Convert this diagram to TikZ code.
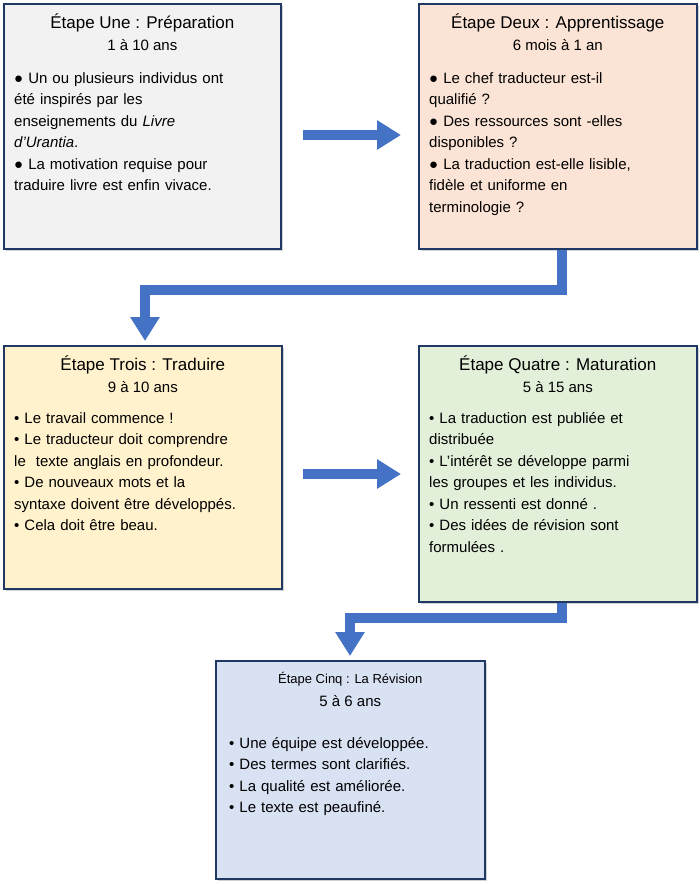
\documentclass[tikz,border=0pt]{standalone}
\usepackage{fontspec}
\setmainfont{Liberation Sans}
\usetikzlibrary{positioning, arrows.meta, calc, shadows}

\definecolor{navy}{HTML}{1F3864}
\definecolor{flow}{HTML}{4472C4}
\definecolor{greybox}{HTML}{F2F2F2}
\definecolor{peachbox}{HTML}{FBE4D5}
\definecolor{yellowbox}{HTML}{FFF2CC}
\definecolor{greenbox}{HTML}{E2EFD9}
\definecolor{bluebox}{HTML}{D9E2F3}

\begin{document}
\begin{tikzpicture}
        [
            x=1pt, y=-1pt,
            stage/.style={draw=navy, line width=1.6pt, anchor=north west,
                          drop shadow={shadow xshift=2pt, shadow yshift=-2pt, fill=black!35},
                          inner sep=0pt},
            title/.style={font=\fontsize{17}{20}\selectfont, inner sep=0pt},
            span/.style={font=\fontsize{15}{18}\selectfont, inner sep=0pt},
            body/.style={font=\fontsize{15}{21.5}\selectfont, align=left,
                         inner sep=0pt, anchor=north west},
            flowline/.style={draw=flow, line width=10pt,
                             -{Triangle[width=28pt,length=24pt]}}
        ]
        \useasboundingbox (0,0) rectangle (700,884);
        % boxes
        \node (s1) [stage, fill=greybox, minimum width=277pt, minimum height=245pt] at (3,3) {};
        \node (s2) [stage, fill=peachbox, minimum width=278pt, minimum height=245pt] at (418,3) {};
        \node (s3) [stage, fill=yellowbox, minimum width=278pt, minimum height=243pt] at (3,345) {};
        \node (s4) [stage, fill=greenbox, minimum width=278pt, minimum height=256pt] at (418,345) {};
        \node (s5) [stage, fill=bluebox, minimum width=269pt, minimum height=218pt] at (215,660) {};
        % titles
        \node (t1) [title, below=11pt of s1.north] {Étape Une : Préparation};
        \node (d1) [span, below=7pt of t1] {1 à 10 ans};
        \node (t2) [title, below=11pt of s2.north] {Étape Deux : Apprentissage};
        \node (d2) [span, below=7pt of t2] {6 mois à 1 an};
        \node (t3) [title, below=11pt of s3.north] {Étape Trois : Traduire};
        \node (d3) [span, below=7pt of t3] {9 à 10 ans};
        \node (t4) [title, below=11pt of s4.north] {Étape Quatre : Maturation};
        \node (d4) [span, below=7pt of t4] {5 à 15 ans};
        \node (t5) [title, font=\fontsize{13}{16}\selectfont, below=12pt of s5.north] {Étape Cinq : La Révision};
        \node (d5) [span, below=9pt of t5] {5 à 6 ans};
        % texts
        \node (b1) [body, text width=255pt] at (14,72)
            {● Un ou plusieurs individus ont\\été inspirés par les\\enseignements du \textit{Livre}\\\textit{d’Urantia}.\\● La motivation requise pour\\traduire livre est enfin vivace.};
        \node (b2) [body, text width=265pt] at (429,72)
            {● Le chef traducteur est-il\\qualifié ?\\● Des ressources sont -elles\\disponibles ?\\● La traduction est-elle lisible,\\fidèle et uniforme en\\terminologie ?};
        \node (b3) [body, text width=265pt] at (14,412)
            {• Le travail commence !\\• Le traducteur doit comprendre\\le~ texte anglais en profondeur.\\• De nouveaux mots et la\\syntaxe doivent être développés.\\• Cela doit être beau.};
        \node (b4) [body, text width=265pt] at (429,412)
            {• La traduction est publiée et\\distribuée\\• L’intérêt se développe parmi\\les groupes et les individus.\\• Un ressenti est donné .\\• Des idées de révision sont\\formulées .};
        \node (b5) [body, text width=240pt] at (229,737)
            {• Une équipe est développée.\\• Des termes sont clarifiés.\\• La qualité est améliorée.\\• Le texte est peaufiné.};
        % connectors
        \coordinate (a1) at (303,135);
        \coordinate (a2) at (401,135);
        \draw [flowline] (a1) -- (a2);
        \coordinate (a3) at (401,474);
        \coordinate (a4) at (303,474);
        \draw [flowline] (a4) -- (a3);
        \draw [flowline] (s2.south -| 562,0) |- (145,290) -- (145,341);
        \draw [flowline] (s4.south -| 562,0) |- (350,618) -- (350,656);
    \end{tikzpicture}
\end{document}
